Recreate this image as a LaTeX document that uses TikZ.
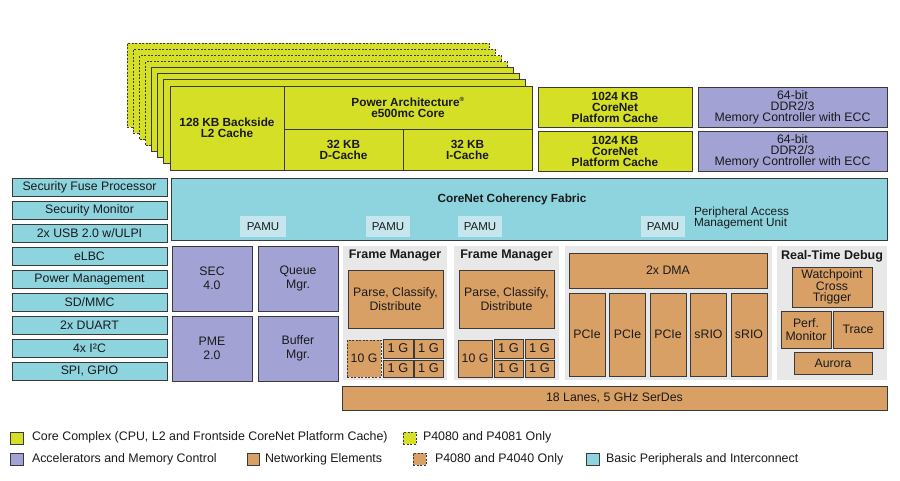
\documentclass[tikz,border=0pt]{standalone}
\usepackage{fontspec}
\setmainfont{Liberation Sans}
\definecolor{cyel}{HTML}{D4DF26}
\definecolor{cpur}{HTML}{A2A2D4}
\definecolor{cora}{HTML}{D9A066}
\definecolor{ccya}{HTML}{8DD4DF}
\definecolor{cpamu}{HTML}{C6E6EE}
\definecolor{cpan}{HTML}{E8E8E8}
\definecolor{edge}{HTML}{3A3A3A}
\definecolor{txt}{HTML}{1A1A1A}
\tikzset{
  base/.style={draw=edge, line width=1pt, inner sep=0pt, outer sep=0pt, align=center, text=txt, font=\fontsize{12.3}{13}\selectfont},
  yel/.style={base, fill=cyel},
  pur/.style={base, fill=cpur},
  ora/.style={base, fill=cora},
  cya/.style={base, fill=ccya},
  dsh/.style={dash pattern=on 2pt off 1.5pt},
  panel/.style={fill=cpan, draw=none, inner sep=0pt, outer sep=0pt},
  pamubox/.style={fill=cpamu, draw=none, inner sep=0pt, outer sep=0pt, text=txt, font=\fontsize{11.5}{12}\selectfont},
  tight/.style={font=\fontsize{12.3}{11}\selectfont},
  loose/.style={font=\fontsize{12.3}{14}\selectfont},
  gig/.style={font=\fontsize{12.8}{13}\selectfont},
  bld/.style={font=\bfseries\fontsize{11.8}{11}\selectfont},
  lbl/.style={inner sep=0pt, outer sep=0pt, text=txt},
  ttl/.style={lbl, font=\bfseries\fontsize{12.5}{13}\selectfont},
  legtxt/.style={inner sep=0pt, outer sep=0pt, text=txt, anchor=west, font=\fontsize{12.4}{13}\selectfont},
}
\newcommand\bx[7]{\node[#2, minimum width={((#5)-(#3))*1pt}, minimum height={((#6)-(#4))*1pt}] (#1) at ({((#3)+(#5))/2},{((#4)+(#6))/2}) {#7};}
\begin{document}
\begin{tikzpicture}[x=1pt,y=-1pt]
\useasboundingbox (0,0) rectangle (900,480);
\fill[white] (0,0) rectangle (900,480);
% stacked cores
\foreach \k in {7,6,5,4}{
  \pgfmathsetmacro\d{6.1*\k}
  \bx{layer\k}{yel,dsh}{170-\d}{86-\d}{532-\d}{170-\d}{}
}
\foreach \k in {3,2,1}{
  \pgfmathsetmacro\d{6.1*\k}
  \bx{layer\k}{yel}{170-\d}{86-\d}{532-\d}{170-\d}{}
}
\bx{l2}{yel,bld}{170}{86}{284}{170}{128 KB Backside\\L2 Cache}
\bx{cpu}{yel,bld}{284}{86}{532}{129}{Power Architecture\textsuperscript{\fontsize{6}{6}\selectfont ®}\\e500mc Core}
\bx{dc}{yel,bld}{284}{129}{403}{170}{32 KB\\D-Cache}
\bx{ic}{yel,bld}{403}{129}{532}{170}{32 KB\\I-Cache}
% platform caches and memory controllers
\bx{pc1}{yel,bld}{538}{87}{692}{127}{1024 KB\\CoreNet\\Platform Cache}
\bx{pc2}{yel,bld}{538}{131}{692}{171}{1024 KB\\CoreNet\\Platform Cache}
\bx{mc1}{pur,tight}{698}{87}{887}{127}{64-bit\\DDR2/3\\Memory Controller with ECC}
\bx{mc2}{pur,tight}{698}{131}{887}{171}{64-bit\\DDR2/3\\Memory Controller with ECC}
% fabric
\bx{fab}{cya}{171}{178}{887}{240}{}
\node[lbl, font=\bfseries\fontsize{11.8}{12}\selectfont] (fabtxt) at (512,199) {CoreNet Coherency Fabric};
\bx{pamu1}{pamubox}{240}{216}{286}{237}{PAMU}
\bx{pamu2}{pamubox}{366}{216}{410}{237}{PAMU}
\bx{pamu3}{pamubox}{458}{216}{502}{237}{PAMU}
\bx{pamu4}{pamubox}{641}{216}{685}{237}{PAMU}
\node[lbl, anchor=west, align=left, font=\fontsize{11.8}{11}\selectfont] (pamutxt) at (694,217.5) {Peripheral Access\\Management Unit};
% left column
\foreach \t [count=\i from 0] in {Security Fuse Processor, Security Monitor, 2x USB 2.0 w/ULPI, eLBC, Power Management, SD/MMC, 2x DUART, 4x I²C, {SPI, GPIO}}{
  \pgfmathsetmacro\yy{178+23.0*\i}
  \bx{per\i}{cya}{12}{\yy}{167}{\yy+18.5}{\t}
}
% accelerators
\bx{sec}{pur,loose}{172}{246}{252}{311}{SEC\\4.0}
\bx{qm}{pur,loose}{258}{246}{338}{311}{Queue\\Mgr.}
\bx{pme}{pur,loose}{172}{316}{252}{381}{PME\\2.0}
\bx{bm}{pur,loose}{258}{316}{338}{381}{Buffer\\Mgr.}
% panels
\bx{fmp1}{panel}{343}{246}{447}{380}{}
\bx{fmp2}{panel}{454}{246}{559}{380}{}
\bx{dmap}{panel}{565}{246}{772}{380}{}
\bx{dbgp}{panel}{777}{246}{887}{380}{}
\node[ttl] (fmt1) at (395,256) {Frame Manager};
\node[ttl] (fmt2) at (506.5,256) {Frame Manager};
\node[ttl] (dbgt) at (832,256) {Real-Time Debug};
% frame managers
\bx{pcd1}{ora,loose}{348}{270}{443}{328}{Parse, Classify,\\Distribute}
\bx{pcd2}{ora,loose}{459}{270}{554}{328}{Parse, Classify,\\Distribute}
\bx{tg1}{ora,dsh}{347}{340}{381}{377}{10 G}
\bx{ga1}{ora,gig}{383}{339}{413}{358}{1 G}
\bx{gb1}{ora,gig}{414}{339}{443}{358}{1 G}
\bx{gc1}{ora,gig}{383}{360}{413}{377}{1 G}
\bx{gd1}{ora,gig}{414}{360}{443}{377}{1 G}
\bx{tg2}{ora}{458}{340}{492}{377}{10 G}
\bx{ga2}{ora,gig}{494}{339}{523}{358}{1 G}
\bx{gb2}{ora,gig}{525}{339}{554}{358}{1 G}
\bx{gc2}{ora,gig}{494}{360}{523}{377}{1 G}
\bx{gd2}{ora,gig}{525}{360}{554}{377}{1 G}
% DMA and serial
\bx{dma}{ora}{569}{253}{767}{288}{2x DMA}
\foreach \t [count=\i from 0] in {PCIe,PCIe,PCIe,sRIO,sRIO}{
  \pgfmathsetmacro\xx{569+40.5*\i}
  \bx{ser\i}{ora}{\xx}{293}{\xx+36}{376}{\t}
}
% debug
\bx{wp}{ora,tight}{792}{267}{872}{307}{Watchpoint\\Cross\\Trigger}
\bx{perf}{ora,font=\fontsize{12.3}{12.5}\selectfont}{781}{311}{831}{348}{Perf.\\Monitor}
\bx{trace}{ora}{833}{311}{883}{348}{Trace}
\bx{aurora}{ora}{794}{352}{872}{374}{Aurora}
% serdes
\bx{serdes}{ora}{342}{386}{887}{410}{18 Lanes, 5 GHz SerDes}
% legend
\bx{lg1}{yel}{10}{432}{23}{444}{}
\node[legtxt] (lt1) at (32,437.5) {Core Complex (CPU, L2 and Frontside CoreNet Platform Cache)};
\bx{lg2}{yel,dsh}{403}{432}{416}{444}{}
\node[legtxt] (lt2) at (423,437.5) {P4080 and P4081 Only};
\bx{lg3}{pur}{10}{453}{23}{465}{}
\node[legtxt] (lt3) at (32,459.5) {Accelerators and Memory Control};
\bx{lg4}{ora}{247}{453}{259}{465}{}
\node[legtxt] (lt4) at (265,459.5) {Networking Elements};
\bx{lg5}{ora,dsh}{413}{453}{426}{465}{}
\node[legtxt] (lt5) at (435,459.5) {P4080 and P4040 Only};
\bx{lg6}{cya}{586}{453}{599}{465}{}
\node[legtxt] (lt6) at (606,459.5) {Basic Peripherals and Interconnect};
\end{tikzpicture}
\end{document}
